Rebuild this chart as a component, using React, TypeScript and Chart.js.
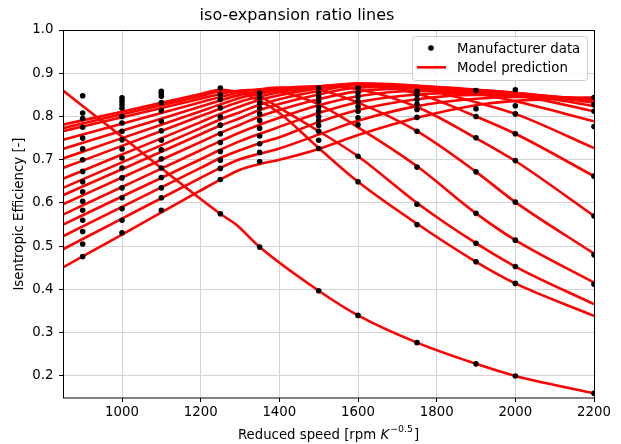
import React, { useEffect, useRef } from "react";
import { Chart, registerables } from "chart.js";

Chart.register(...registerables);

const FONT = "DejaVu Sans";
const TITLE = "iso-expansion ratio lines";
const Y_LABEL = "Isentropic Efficiency [-]";
const X_LABEL_MAIN = "Reduced speed [rpm ";
const X_LABEL_VAR = "K";
const X_LABEL_EXP = "\u22120.5";
const X_LABEL_END = "]";
const LEGEND_DATA = "Manufacturer data";
const LEGEND_MODEL = "Model prediction";

const X_MIN = 850;
const X_MAX = 2200;
const Y_MIN = 0.149;
const Y_MAX = 1.0;
const X_TICKS = [1000, 1200, 1400, 1600, 1800, 2000, 2200];
const Y_TICKS = [0.2, 0.3, 0.4, 0.5, 0.6, 0.7, 0.8, 0.9, 1.0];

// Manufacturer data (efficiency per reduced-speed column)
const eff900 = [0.848, 0.808, 0.795, 0.775, 0.75, 0.725, 0.7, 0.673, 0.649, 0.626, 0.604, 0.583, 0.56, 0.534, 0.505, 0.476];
const eff1000 = [0.843, 0.835, 0.827, 0.819, 0.8, 0.785, 0.766, 0.746, 0.725, 0.704, 0.681, 0.658, 0.635, 0.612, 0.587, 0.56, 0.531];
const eff1100 = [0.858, 0.853, 0.847, 0.832, 0.814, 0.789, 0.767, 0.745, 0.723, 0.702, 0.681, 0.659, 0.635, 0.612, 0.583];
const eff1250 = [0.866, 0.85, 0.839, 0.82, 0.799, 0.78, 0.76, 0.74, 0.719, 0.699, 0.68, 0.654, 0.575];
const eff1350 = [0.854, 0.843, 0.831, 0.819, 0.806, 0.791, 0.773, 0.755, 0.737, 0.717, 0.696, 0.498];
const eff1500 = [0.866, 0.855, 0.845, 0.835, 0.822, 0.812, 0.8, 0.79, 0.779, 0.766, 0.745, 0.726, 0.397];
const eff1600 = [0.866, 0.855, 0.846, 0.835, 0.823, 0.812, 0.797, 0.781, 0.708, 0.649, 0.34];
const eff1750 = [0.858, 0.85, 0.839, 0.828, 0.816, 0.798, 0.766, 0.683, 0.597, 0.55, 0.277];
const eff1900 = [0.86, 0.818, 0.8, 0.751, 0.672, 0.576, 0.507, 0.464, 0.228];
const eff2000 = [0.862, 0.825, 0.806, 0.76, 0.698, 0.602, 0.514, 0.453, 0.414, 0.2];
const eff2200 = [0.844, 0.827, 0.812, 0.777, 0.662, 0.57, 0.48, 0.412, 0.16];

const dataColumns: [number, number[]][] = [
  [900, eff900], [1000, eff1000], [1100, eff1100], [1250, eff1250], [1350, eff1350],
  [1500, eff1500], [1600, eff1600], [1750, eff1750], [1900, eff1900], [2000, eff2000], [2200, eff2200],
];

// Model prediction lines
const speeds0 = [850, 1000, 1250, 1290, 1350, 1500, 1600, 1750, 1900, 2000, 2200];
const model0 = [0.86, 0.753, 0.575, 0.55, 0.498, 0.397, 0.34, 0.277, 0.228, 0.2, 0.16];

const speeds = [850, 1000, 1200, 1250, 1300, 1350, 1400, 1500, 1600, 1750, 1900, 2000, 2200];
const model1 = [0.781, 0.811, 0.852, 0.862, 0.855, 0.836, 0.808, 0.727, 0.649, 0.552, 0.464, 0.414, 0.339];
const model2 = [0.773, 0.805, 0.847, 0.858, 0.856, 0.846, 0.82, 0.766, 0.708, 0.6, 0.507, 0.453, 0.366];
const model3 = [0.766, 0.798, 0.841, 0.852, 0.86, 0.862, 0.857, 0.828, 0.775, 0.685, 0.576, 0.514, 0.416];
const model4 = [0.746, 0.783, 0.833, 0.845, 0.856, 0.863, 0.867, 0.862, 0.832, 0.766, 0.672, 0.602, 0.483];
const model5 = [0.725, 0.767, 0.823, 0.837, 0.85, 0.858, 0.865, 0.87, 0.863, 0.822, 0.75, 0.697, 0.57];
const model6 = [0.703, 0.75, 0.812, 0.828, 0.843, 0.853, 0.861, 0.87, 0.873, 0.853, 0.8, 0.76, 0.662];
const model7 = [0.681, 0.732, 0.801, 0.818, 0.834, 0.846, 0.856, 0.869, 0.876, 0.866, 0.833, 0.806, 0.727];
const model8 = [0.656, 0.712, 0.787, 0.806, 0.823, 0.838, 0.849, 0.865, 0.876, 0.871, 0.853, 0.835, 0.789];
const model9 = [0.635, 0.694, 0.773, 0.793, 0.81, 0.827, 0.84, 0.859, 0.873, 0.871, 0.86, 0.85, 0.812];
const model10 = [0.618, 0.678, 0.759, 0.779, 0.796, 0.815, 0.829, 0.851, 0.867, 0.869, 0.862, 0.854, 0.824];
const model11 = [0.597, 0.659, 0.741, 0.762, 0.781, 0.8, 0.815, 0.84, 0.858, 0.865, 0.861, 0.855, 0.832];
const model12 = [0.573, 0.637, 0.722, 0.743, 0.763, 0.781, 0.797, 0.826, 0.847, 0.859, 0.858, 0.854, 0.836];
const model13 = [0.55, 0.615, 0.701, 0.723, 0.743, 0.76, 0.776, 0.808, 0.833, 0.851, 0.855, 0.852, 0.839];
const model14 = [0.523, 0.591, 0.681, 0.704, 0.722, 0.738, 0.752, 0.787, 0.815, 0.84, 0.85, 0.849, 0.841];
const model15 = [0.493, 0.564, 0.658, 0.681, 0.701, 0.714, 0.726, 0.758, 0.79, 0.824, 0.841, 0.845, 0.843];
const model16 = [0.451, 0.527, 0.629, 0.654, 0.677, 0.69, 0.7, 0.725, 0.757, 0.797, 0.826, 0.836, 0.844];

const modelLines = [model1, model2, model3, model4, model5, model6, model7, model8, model9, model10, model11, model12, model13, model14, model15, model16];

const RED = "#ff0000";

export default function App() {
  const ref = useRef<HTMLCanvasElement | null>(null);

  useEffect(() => {
    if (!ref.current) return;
    const points: { x: number; y: number }[] = [];
    dataColumns.forEach(([s, arr]) => arr.forEach((v) => points.push({ x: s, y: v })));

    const lineDs = (xs: number[], ys: number[]) => ({
      type: "line" as const,
      data: xs.map((x, i) => ({ x, y: ys[i] })),
      borderColor: RED,
      backgroundColor: RED,
      borderWidth: 2.6,
      pointRadius: 0,
      fill: false,
      cubicInterpolationMode: "monotone" as const,
      order: 2,
    });

    const datasets: any[] = [
      {
        type: "scatter",
        label: LEGEND_DATA,
        data: points,
        pointRadius: 2.8,
        pointBackgroundColor: "#000",
        pointBorderWidth: 0,
        showLine: false,
        order: 1,
      },
      { ...lineDs(speeds0, model0), label: LEGEND_MODEL },
      ...modelLines.map((m) => lineDs(speeds, m)),
    ];

    const framePlugin = {
      id: "frame",
      afterDatasetsDraw(chart: any) {
        const { ctx, chartArea } = chart;
        ctx.save();
        ctx.strokeStyle = "#000";
        ctx.lineWidth = 1;
        ctx.strokeRect(chartArea.left + 0.5, chartArea.top + 0.5, chartArea.right - chartArea.left, chartArea.bottom - chartArea.top - 0.5);
        ctx.restore();
      },
      afterDraw(chart: any) {
        const { ctx, chartArea } = chart;
        ctx.save();
        // legend
        const bx = 412.5, by = 36.5, bw = 175, bh = 44, r = 3;
        ctx.beginPath();
        ctx.moveTo(bx + r, by);
        ctx.lineTo(bx + bw - r, by);
        ctx.arcTo(bx + bw, by, bx + bw, by + r, r);
        ctx.lineTo(bx + bw, by + bh - r);
        ctx.arcTo(bx + bw, by + bh, bx + bw - r, by + bh, r);
        ctx.lineTo(bx + r, by + bh);
        ctx.arcTo(bx, by + bh, bx, by + bh - r, r);
        ctx.lineTo(bx, by + r);
        ctx.arcTo(bx, by, bx + r, by, r);
        ctx.closePath();
        ctx.fillStyle = "rgba(255,255,255,0.8)";
        ctx.fill();
        ctx.strokeStyle = "#cccccc";
        ctx.lineWidth = 1;
        ctx.stroke();
        ctx.fillStyle = "#000";
        ctx.beginPath();
        ctx.arc(431, 48, 2.8, 0, Math.PI * 2);
        ctx.fill();
        ctx.strokeStyle = RED;
        ctx.lineWidth = 2.6;
        ctx.beginPath();
        ctx.moveTo(417, 67.3);
        ctx.lineTo(446, 67.3);
        ctx.stroke();
        ctx.fillStyle = "#000";
        ctx.font = `13.3px '${FONT}'`;
        ctx.textBaseline = "alphabetic";
        ctx.textAlign = "left";
        ctx.fillText(LEGEND_DATA, 457, 53);
        ctx.fillText(LEGEND_MODEL, 457, 72.3);

        // x-axis label with superscript
        const fMain = `13.3px '${FONT}'`;
        const fIt = `oblique 13.3px '${FONT}'`;
        const fSup = `9.4px '${FONT}'`;
        ctx.font = fMain;
        const w1 = ctx.measureText(X_LABEL_MAIN).width;
        const w4 = ctx.measureText(X_LABEL_END).width;
        ctx.font = fIt;
        const w2 = ctx.measureText(X_LABEL_VAR).width;
        ctx.font = fSup;
        const w3 = ctx.measureText(X_LABEL_EXP).width;
        const total = w1 + w2 + 1 + w3 + 1 + w4;
        const cx = (chartArea.left + chartArea.right) / 2;
        let x = cx - total / 2;
        const base = 439;
        ctx.font = fMain;
        ctx.fillText(X_LABEL_MAIN, x, base);
        x += w1;
        ctx.font = fIt;
        ctx.fillText(X_LABEL_VAR, x, base);
        x += w2 + 1;
        ctx.font = fSup;
        ctx.fillText(X_LABEL_EXP, x, base - 7.5);
        x += w3 + 1;
        ctx.font = fMain;
        ctx.fillText(X_LABEL_END, x, base);
        ctx.restore();
      },
    };

    const tickFont = { family: FONT, size: 13.3 };

    const chart = new Chart(ref.current, {
      type: "scatter",
      data: { datasets },
      options: {
        animation: false,
        responsive: false,
        devicePixelRatio: 1,
        layout: { padding: { left: 0, right: 27, top: 0, bottom: 0 } },
        plugins: {
          legend: { display: false },
          tooltip: { enabled: false },
          title: {
            display: true,
            text: TITLE,
            color: "#000",
            font: { family: FONT, size: 16, weight: "normal" },
            padding: { top: 6.4, bottom: 4.4 },
          },
        },
        scales: {
          x: {
            type: "linear",
            min: X_MIN,
            max: X_MAX,
            afterBuildTicks: (s: any) => {
              s.ticks = X_TICKS.map((v) => ({ value: v }));
            },
            afterFit: (s: any) => {
              s.height = 46;
            },
            grid: { color: "#d3d3d3", tickColor: "#000", tickLength: 4, lineWidth: 1 },
            border: { display: false },
            ticks: {
              color: "#000",
              font: tickFont,
              padding: 3,
              maxRotation: 0,
              autoSkip: false,
              callback: (v: any) => String(v),
            },
          },
          y: {
            type: "linear",
            min: Y_MIN,
            max: Y_MAX,
            afterBuildTicks: (s: any) => {
              s.ticks = Y_TICKS.map((v) => ({ value: v }));
            },
            afterFit: (s: any) => {
              s.width = 63;
            },
            grid: { color: "#d3d3d3", tickColor: "#000", tickLength: 4, lineWidth: 1 },
            border: { display: false },
            ticks: {
              color: "#000",
              font: tickFont,
              padding: 5.5,
              autoSkip: false,
              callback: (v: any) => Number(v).toFixed(1),
            },
            title: {
              display: true,
              text: Y_LABEL,
              color: "#000",
              font: { family: FONT, size: 13.3 },
              padding: { top: 12, bottom: 0 },
            },
          },
        },
      },
      plugins: [framePlugin],
    } as any);

    return () => chart.destroy();
  }, []);

  return (
    <div style={{ position: "fixed", left: 0, top: 0, width: 621, height: 444, background: "#fff" }}>
      <canvas ref={ref} width={621} height={444} style={{ display: "block" }} />
    </div>
  );
}
